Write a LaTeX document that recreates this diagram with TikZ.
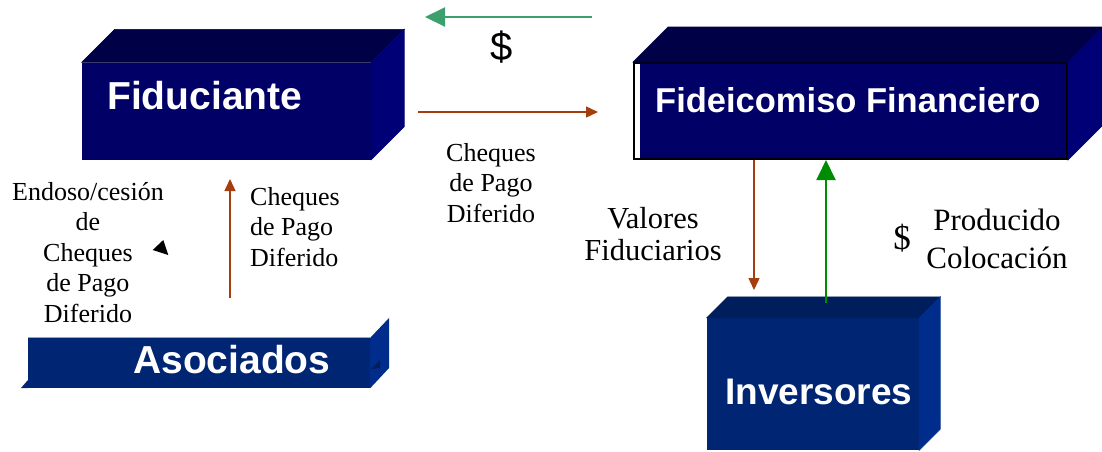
\documentclass[tikz,border=0pt]{standalone}
\usepackage{fontspec}
\setmainfont{Liberation Serif}
\setsansfont{Liberation Sans}
\usepackage{xcolor}
\usetikzlibrary{arrows.meta}

\definecolor{navyfront}{RGB}{0,0,102}
\definecolor{navytop}{RGB}{0,0,70}
\definecolor{navyside}{RGB}{0,0,118}
\definecolor{bluefront}{RGB}{0,38,115}
\definecolor{bluetop}{RGB}{0,30,92}
\definecolor{blueside}{RGB}{0,45,140}
\definecolor{moneygreen}{RGB}{60,160,110}
\definecolor{prodgreen}{RGB}{0,140,0}
\definecolor{chequebrown}{RGB}{165,62,15}

\tikzset{
  front/.style = {inner sep=0pt, draw=none},
  boxlabel/.style = {text=white, inner sep=0pt, font=\sffamily\bfseries\fontsize{#1}{#1}\selectfont},
  note/.style = {inner sep=0pt, align=center, font=\fontsize{26}{30.5}\selectfont},
  chequearrow/.style = {draw=chequebrown, line width=1.4pt, -{Triangle[length=12pt,width=11pt]}},
  moneyarrow/.style = {draw=#1, line width=2pt, -{Triangle[length=20pt,width=19pt]}}
}

% top and right faces of a box: node, depth, top colour, side colour
\newcommand{\drawsides}[4]{%
  \filldraw[#3, line width=0.6pt] (#1.north west) -- ++(#2,-#2) -- ([shift={(#2,-#2)}]#1.north east) -- (#1.north east) -- cycle;
  \filldraw[#4, line width=0.6pt] (#1.north east) -- ++(#2,-#2) -- ([shift={(#2,-#2)}]#1.south east) -- (#1.south east) -- cycle;}

\begin{document}
\begin{tikzpicture}[x=1pt, y=-1pt]
  \useasboundingbox (0,0) rectangle (1102,451);

  % boxes
  \node[front, fill=navyfront, minimum width=289, minimum height=97] (fidu) at (226.5,111) {};
  \drawsides{fidu}{33}{navytop}{navyside}
  \node[boxlabel=39, anchor=base west] (fidutxt) at (107,109) {Fiduciante};

  \node[front, fill=navyfront, draw=black, line width=2pt, minimum width=433, minimum height=96,
        path picture={\fill[white] (path picture bounding box.south west) rectangle ([xshift=6pt]path picture bounding box.north west);}]
        (fide) at (850.5,111) {};
  \drawsides{fide}{35}{navytop}{navyside}
  \node[boxlabel=34.5, anchor=base west] (fidetxt) at (655,112) {Fideicomiso Financiero};

  \node[front, fill=bluefront, minimum width=212, minimum height=132] (inv) at (813,384) {};
  \drawsides{inv}{21}{bluetop}{blueside}
  \node[boxlabel=37, anchor=base west] (invtxt) at (725,404) {Inversores};

  \node[front, fill=bluefront, minimum width=342, minimum height=50] (asoc) at (199,363) {};
  \fill[blueside] (asoc.north east) -- ++(19,-20) -- ++(0,50) -- (asoc.south east) -- cycle;
  \fill[bluetop] (371,369) -- (380,360) -- (380,368) -- cycle;
  \fill[bluefront] (asoc.south west) -- ++(-7,0) -- ++(7,-8) -- cycle;
  \draw[blue!25!gray!60, line width=0.8pt] (asoc.north west) -- (asoc.north east);
  \node[boxlabel=39, anchor=base west] (asoctxt) at (133,373) {Asociados};

  % connectors
  \coordinate (dolstart) at (592,17);
  \coordinate (doltip) at (425,17);
  \draw[moneyarrow=moneygreen] (dolstart) -- (doltip);

  \coordinate (chqstart) at (418,112);
  \coordinate (chqtip) at (598,112);
  \draw[chequearrow] (chqstart) -- (chqtip);

  \coordinate (asocstart) at (230,298);
  \coordinate (asoctip) at (230,179);
  \draw[chequearrow] (asocstart) -- (asoctip);

  \coordinate (valtip) at (754,290);
  \draw[chequearrow] (fide.south -| valtip) -- (valtip);

  \coordinate (prodstart) at (826,303);
  \draw[moneyarrow=prodgreen] (prodstart) -- (fide.south -| prodstart);

  \fill (152.7,250) -- (163.3,240) -- (168.3,255) -- cycle;

  % texts
  \node[font=\sffamily\fontsize{40}{40}\selectfont, inner sep=0pt] (dollar) at (502,47) {\$};
  \node[note, anchor=base] (chqtxt) at (491,222) {Cheques\\de Pago\\Diferido};
  \node[note, align=left, anchor=base west] (asocchq) at (250,266) {Cheques\\de Pago\\Diferido};
  \node[note, anchor=base] (endoso) at (88,322) {Endoso/cesión\\de\\Cheques\\de Pago\\Diferido};
  \node[note, font=\fontsize{30.5}{32}\selectfont, anchor=base] (valores) at (653,260) {Valores\\Fiduciarios};
  \node[note, font=\fontsize{31}{38}\selectfont, anchor=base] (producido) at (997,268) {Producido\\Colocación};
  \node[note, font=\fontsize{35}{35}\selectfont] (proddol) at (902,238) {\$};
\end{tikzpicture}
\end{document}
